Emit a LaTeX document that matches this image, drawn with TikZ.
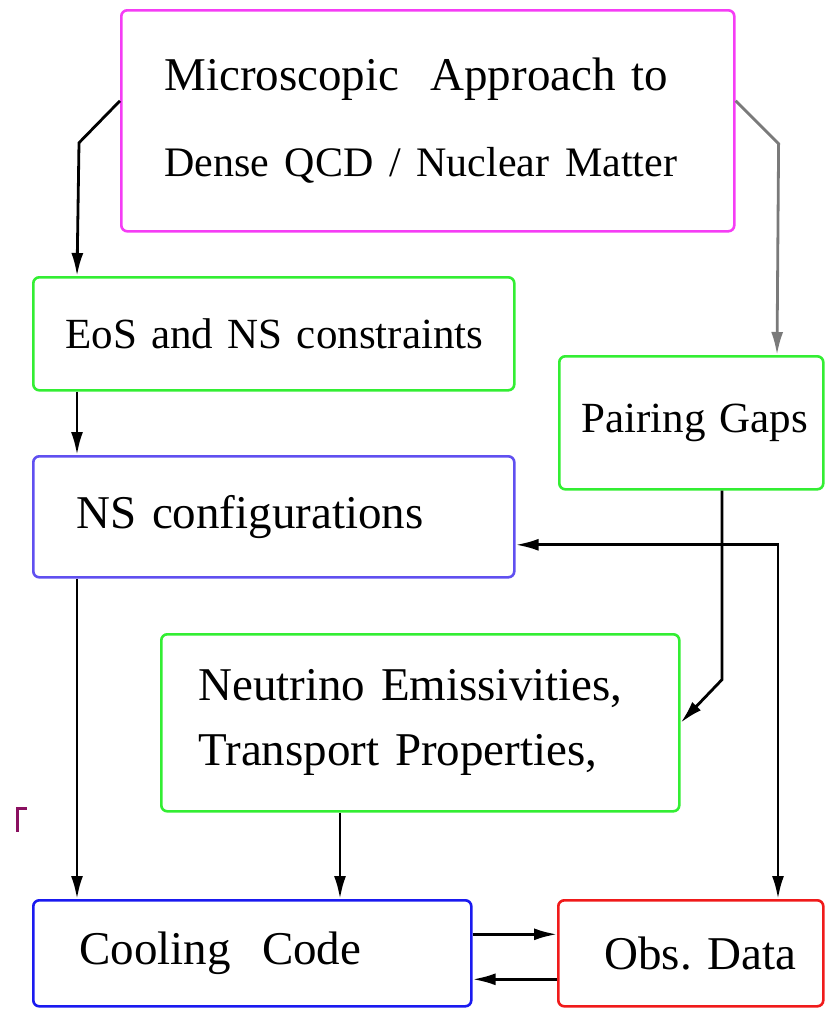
\documentclass[tikz,border=0pt]{standalone}
\usepackage{fontspec}
\setmainfont{Liberation Serif}
\usepackage{xcolor}
\usepackage{tikz}
\usetikzlibrary{arrows.meta,positioning}
\definecolor{rose}{HTML}{F53DF5}
\definecolor{leaf}{HTML}{33EE33}
\definecolor{royal}{HTML}{1A1AF0}
\definecolor{iris}{HTML}{6050F0}
\definecolor{scarlet}{HTML}{F01A1A}
\definecolor{plum}{HTML}{8A1060}
\definecolor{ash}{HTML}{7A7A7A}
\tikzset{
  panel/.style={rectangle,rounded corners=6pt,line width=2.6pt,anchor=north west,
    inner xsep=0pt,inner ysep=0pt,align=left,font=\fontsize{47}{57}\selectfont},
  link/.style={-{Latex[length=23pt,width=12pt]},line width=2.8pt,draw=black},
  twoway/.style={{Latex[length=23pt,width=12pt]}-{Latex[length=23pt,width=12pt]},line width=2.8pt,draw=black}
}
\begin{document}
\begin{tikzpicture}[x=1pt,y=-1pt]
\useasboundingbox (0,0) rectangle (828,1009);
\node[panel,draw=rose,minimum width=613pt,minimum height=221pt,text width=527pt,
  font=\fontsize{47}{86}\selectfont] (micro) at (120,9)
  {\mbox{Microscopic\ \ Approach to}\\\mbox{\fontsize{42}{86}\selectfont Dense QCD / Nuclear Matter}};
\node[panel,draw=leaf,minimum width=481pt,minimum height=113pt,text width=417pt,
  font=\fontsize{43}{53}\selectfont] (eos) at (32,276) {\mbox{EoS and NS constraints}};
\node[panel,draw=leaf,minimum width=264pt,minimum height=133pt,text width=220pt,
  font=\fontsize{43}{53}\selectfont] (pair) at (558,355) {\mbox{Pairing Gaps}};
\node[panel,draw=iris,minimum width=481pt,minimum height=121pt,text width=395pt] (ns) at (32,455) {\mbox{NS configurations}};
\node[panel,draw=leaf,minimum width=518pt,minimum height=177pt,text width=444pt,
  font=\fontsize{47}{65}\selectfont] (neu) at (160,633) {\mbox{Neutrino Emissivities,}\\\mbox{Transport Properties,}};
\node[panel,draw=royal,minimum width=438pt,minimum height=106pt,text width=346pt] (cool) at (32,899) {\mbox{Cooling\ \ Code}};
\node[panel,draw=scarlet,minimum width=265pt,minimum height=106pt,text width=173pt] (obs) at (557,899) {\mbox{Obs.\ Data}};
% connectors
\draw[link] ([yshift=20pt]micro.west) -- ++(-41,42) -- ([xshift=45pt]eos.north west);
\draw[link,draw=ash] ([yshift=20pt]micro.east) -- ++(43,43) -- ([xshift=219pt]pair.north west);
\draw[link] ([xshift=45pt]eos.south west) -- ([xshift=45pt]ns.north west);
\draw[link] ([xshift=45pt]ns.south west) -- ([xshift=45pt]cool.north west);
\draw[link] ([xshift=164pt]pair.south west) -- ++(0,189) -- (neu.east);
\draw[twoway] ([yshift=-28pt]ns.east) -| ([xshift=221pt]obs.north west);
\draw[link] ([xshift=180pt]neu.south west) -- ([xshift=180pt]neu.south west |- cool.north);
\draw[link] ([yshift=19pt]cool.east) -- ([yshift=19pt]cool.east -| obs.west);
\draw[link] ([yshift=-26pt]obs.west) -- ([yshift=-26pt]obs.west -| cool.east);
% stray mark
\draw[plum,line width=3pt] (27,808) -- (17,808) -- (17,832);
\end{tikzpicture}
\end{document}
